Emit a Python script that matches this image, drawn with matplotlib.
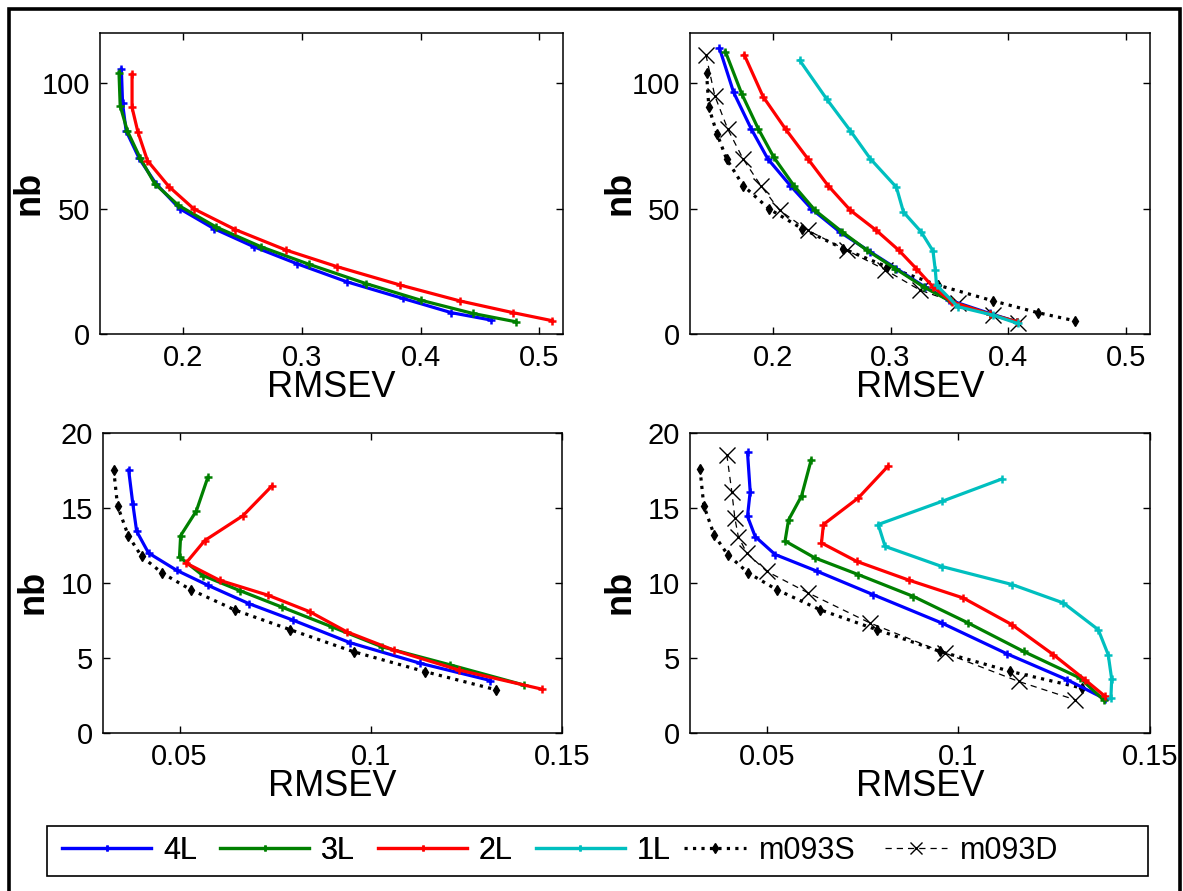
import matplotlib
matplotlib.use("Agg")
import matplotlib.pyplot as plt
from matplotlib.lines import Line2D
from matplotlib.patches import Rectangle
from matplotlib.ticker import FixedLocator, FuncFormatter

plt.rcParams['font.family'] = ['Liberation Sans', 'DejaVu Sans']

# ---------------- data ----------------
series_names = ['4L', '3L', '2L', '1L', 'm093S', 'm093D']

# top-left
tl_4L_x = [0.148, 0.149, 0.152, 0.163, 0.177, 0.197, 0.226, 0.260, 0.296, 0.338, 0.385, 0.426, 0.459]
tl_4L_y = [105.6, 92, 81, 70, 60, 50, 42, 34.7, 28, 20.8, 14.2, 8.5, 5.6]
tl_3L_x = [0.146, 0.147, 0.153, 0.164, 0.176, 0.196, 0.228, 0.266, 0.306, 0.354, 0.400, 0.444, 0.480]
tl_3L_y = [104.2, 91, 81, 70, 60, 51.3, 42.6, 34.7, 27.8, 20.1, 13.5, 8.2, 4.9]
tl_2L_x = [0.157, 0.157, 0.162, 0.170, 0.188, 0.209, 0.244, 0.287, 0.330, 0.383, 0.433, 0.478, 0.511]
tl_2L_y = [103.6, 90.3, 80.4, 69.1, 58.8, 49.9, 41.6, 33.4, 26.8, 19.5, 13.2, 8.5, 5.3]

# top-right
tr_4L_x = [0.155, 0.167, 0.182, 0.196, 0.215, 0.233, 0.257, 0.283, 0.305, 0.329, 0.350, 0.384, 0.407]
tr_4L_y = [113.9, 96.3, 81.7, 69.8, 59.2, 49.9, 40.7, 32.7, 26.1, 18.8, 13.5, 8.2, 4.9]
tr_3L_x = [0.160, 0.174, 0.188, 0.201, 0.218, 0.236, 0.259, 0.280, 0.304, 0.328, 0.351, 0.384, 0.407]
tr_3L_y = [112.6, 95.6, 81.7, 70.5, 59.2, 49.3, 40.7, 33.4, 26.1, 18.8, 13.0, 7.9, 4.9]
tr_2L_x = [0.176, 0.192, 0.211, 0.230, 0.247, 0.266, 0.288, 0.307, 0.322, 0.336, 0.352, 0.384, 0.407]
tr_2L_y = [111.3, 94.6, 81.7, 69.8, 59.2, 49.3, 41.3, 33.4, 26.0, 18.8, 12.8, 7.9, 4.9]
tr_1L_x = [0.223, 0.246, 0.266, 0.283, 0.305, 0.311, 0.326, 0.336, 0.338, 0.339, 0.357, 0.387, 0.408]
tr_1L_y = [109.1, 93.6, 81, 69.8, 58.5, 48.6, 40.7, 33.1, 25.4, 19.5, 10.9, 7.5, 4.2]
tr_S_x = [0.144, 0.146, 0.153, 0.161, 0.175, 0.197, 0.225, 0.260, 0.297, 0.340, 0.387, 0.425, 0.456]
tr_S_y = [104.2, 90.3, 79.7, 69.8, 59.2, 49.9, 42, 34, 26.8, 19.5, 13.2, 8.5, 5.3]
tr_D_x = [0.1435, 0.151, 0.162, 0.175, 0.190, 0.206, 0.230, 0.263, 0.295, 0.325, 0.357, 0.387, 0.408]
tr_D_y = [111.3, 95, 81.7, 69.8, 59.2, 49.3, 41.3, 33.4, 25.7, 17.5, 12.2, 7.5, 4.2]

# bottom-left
bl_4L_x = [0.0367, 0.0378, 0.0388, 0.0419, 0.0493, 0.0574, 0.0681, 0.0797, 0.0946, 0.1129, 0.1313]
bl_4L_y = [17.54, 15.27, 13.45, 12.0, 10.84, 9.85, 8.63, 7.52, 6.02, 4.65, 3.5]
bl_3L_x = [0.0574, 0.0544, 0.0503, 0.0500, 0.0561, 0.0657, 0.0767, 0.0898, 0.1029, 0.1208, 0.1400]
bl_3L_y = [17.04, 14.8, 13.16, 11.73, 10.5, 9.5, 8.4, 7.08, 5.75, 4.54, 3.2]
bl_2L_x = [0.0742, 0.0666, 0.0566, 0.0517, 0.0605, 0.0732, 0.0841, 0.0937, 0.1060, 0.1230, 0.1448]
bl_2L_y = [16.48, 14.49, 12.83, 11.33, 10.18, 9.18, 8.08, 6.75, 5.53, 4.2, 2.92]
bl_S_x = [0.0328, 0.0338, 0.0366, 0.0401, 0.0455, 0.0529, 0.0646, 0.0788, 0.0955, 0.1142, 0.1328]
bl_S_y = [17.54, 15.15, 13.16, 11.77, 10.66, 9.56, 8.19, 6.9, 5.42, 4.09, 2.88]

# bottom-right
br_4L_x = [0.0450, 0.0457, 0.0450, 0.0470, 0.0522, 0.0630, 0.0778, 0.0957, 0.1126, 0.1283, 0.1383]
br_4L_y = [18.71, 16.1, 14.44, 13.1, 11.9, 10.8, 9.22, 7.33, 5.29, 3.56, 2.27]
br_3L_x = [0.0616, 0.0591, 0.0557, 0.0548, 0.0626, 0.0739, 0.0883, 0.1026, 0.1170, 0.1317, 0.1380]
br_3L_y = [18.2, 15.8, 14.2, 12.8, 11.67, 10.56, 9.1, 7.33, 5.44, 3.67, 2.18]
br_2L_x = [0.0817, 0.0739, 0.0648, 0.0643, 0.0735, 0.0870, 0.1013, 0.1140, 0.1248, 0.1330, 0.1383]
br_2L_y = [17.8, 15.67, 13.9, 12.67, 11.44, 10.2, 9.0, 7.22, 5.22, 3.56, 2.44]
br_1L_x = [0.1113, 0.0957, 0.0791, 0.0809, 0.0957, 0.1140, 0.1274, 0.1365, 0.1391, 0.1400, 0.1398]
br_1L_y = [16.93, 15.44, 13.9, 12.44, 11.1, 9.9, 8.67, 6.89, 5.22, 3.6, 2.33]
br_S_x = [0.0326, 0.0336, 0.0363, 0.0398, 0.0452, 0.0526, 0.0639, 0.0787, 0.0952, 0.1135, 0.1322]
br_S_y = [17.6, 15.16, 13.2, 11.9, 10.67, 9.56, 8.22, 6.89, 5.44, 4.11, 3.0]
br_D_x = [0.0396, 0.0409, 0.0417, 0.0426, 0.0448, 0.0500, 0.0609, 0.0770, 0.0965, 0.1157, 0.1304]
br_D_y = [18.56, 16.1, 14.33, 13.1, 12.0, 10.78, 9.33, 7.33, 5.33, 3.44, 2.22]

top_xticks = [0.2, 0.3, 0.4, 0.5]
top_yticks = [0, 50, 100]
bot_xticks = [0.05, 0.1, 0.15]
bot_yticks = [0, 5, 10, 15, 20]

# ---------------- styles ----------------
W, H = 1183, 891
DPI = 100
colors = {'4L': '#0000FF', '3L': '#008000', '2L': '#FF0000', '1L': '#00BFBF'}
styles = {
    '4L': dict(color=colors['4L'], lw=2.3, marker='+', ms=6, mew=1.8),
    '3L': dict(color=colors['3L'], lw=2.3, marker='+', ms=6, mew=1.8),
    '2L': dict(color=colors['2L'], lw=2.3, marker='+', ms=6, mew=1.8),
    '1L': dict(color=colors['1L'], lw=2.3, marker='+', ms=6, mew=1.8),
    'm093S': dict(color='black', lw=2.3, ls=':', marker='d', ms=5),
    'm093D': dict(color='black', lw=0.9, ls=(0, (5, 4)), marker='x', ms=12, mew=1.0),
}

fig = plt.figure(figsize=(W / DPI, H / DPI), dpi=DPI)


def px_axes(l, r, t, b):
    return fig.add_axes([l / W, 1 - b / H, (r - l) / W, (b - t) / H])


def style_axes(ax, xlim, ylim, xt, yt):
    ax.set_xlim(*xlim)
    ax.set_ylim(*ylim)
    ax.xaxis.set_major_locator(FixedLocator(xt))
    ax.yaxis.set_major_locator(FixedLocator(yt))
    ax.xaxis.set_major_formatter(FuncFormatter(lambda v, p: '%g' % v))
    ax.yaxis.set_major_formatter(FuncFormatter(lambda v, p: '%g' % v))
    ax.tick_params(direction='in', length=5, width=1, labelsize=21, pad=7,
                   top=True, right=True, colors='black')
    for s in ax.spines.values():
        s.set_linewidth(1.1)
    ax.set_xlabel('RMSEV', fontsize=26, labelpad=-1)
    ax.set_ylabel('nb', fontsize=26, fontweight='bold')
    ax.yaxis.set_label_coords(-0.115, 0.47)


ax_tl = px_axes(100, 563, 33, 334)
ax_tr = px_axes(690, 1150, 33, 334)
ax_bl = px_axes(103, 562, 433, 733)
ax_br = px_axes(690, 1150, 433, 733)

ax_tl.plot(tl_4L_x, tl_4L_y, **styles['4L'])
ax_tl.plot(tl_3L_x, tl_3L_y, **styles['3L'])
ax_tl.plot(tl_2L_x, tl_2L_y, **styles['2L'])

ax_tr.plot(tr_S_x, tr_S_y, **styles['m093S'])
ax_tr.plot(tr_D_x, tr_D_y, **styles['m093D'])
ax_tr.plot(tr_4L_x, tr_4L_y, **styles['4L'])
ax_tr.plot(tr_3L_x, tr_3L_y, **styles['3L'])
ax_tr.plot(tr_2L_x, tr_2L_y, **styles['2L'])
ax_tr.plot(tr_1L_x, tr_1L_y, **styles['1L'])

ax_bl.plot(bl_S_x, bl_S_y, **styles['m093S'])
ax_bl.plot(bl_4L_x, bl_4L_y, **styles['4L'])
ax_bl.plot(bl_3L_x, bl_3L_y, **styles['3L'])
ax_bl.plot(bl_2L_x, bl_2L_y, **styles['2L'])

ax_br.plot(br_S_x, br_S_y, **styles['m093S'])
ax_br.plot(br_D_x, br_D_y, **styles['m093D'])
ax_br.plot(br_4L_x, br_4L_y, **styles['4L'])
ax_br.plot(br_3L_x, br_3L_y, **styles['3L'])
ax_br.plot(br_2L_x, br_2L_y, **styles['2L'])
ax_br.plot(br_1L_x, br_1L_y, **styles['1L'])

style_axes(ax_tl, (0.13, 0.52), (0, 120), top_xticks, top_yticks)
style_axes(ax_tr, (0.13, 0.52), (0, 120), top_xticks, top_yticks)
style_axes(ax_bl, (0.03, 0.15), (0, 20), bot_xticks, bot_yticks)
style_axes(ax_br, (0.03, 0.15), (0, 20), bot_xticks, bot_yticks)

# ---------------- legend ----------------
LFS = 22
lfs_px = LFS * DPI / 72.0
handles_a = [Line2D([], [], **dict(styles[n], ms=4)) for n in series_names[:4]]
handles_b = [Line2D([], [], **dict(styles[n], ms=(5 if n == 'm093S' else 9)))
             for n in series_names[4:]]
leg_y = 1 - 851 / H
leg_a = fig.legend(handles_a, series_names[:4], loc='center left',
                   bbox_to_anchor=(62 / W, leg_y), ncol=4, frameon=False,
                   fontsize=LFS, handlelength=89 / lfs_px, handletextpad=12 / lfs_px,
                   columnspacing=23 / lfs_px, borderpad=0, borderaxespad=0)
leg_b = fig.legend(handles_b, series_names[4:], loc='center left',
                   bbox_to_anchor=(684 / W, leg_y), ncol=2, frameon=False,
                   fontsize=LFS, handlelength=62 / lfs_px, handletextpad=13 / lfs_px,
                   columnspacing=29 / lfs_px, borderpad=0, borderaxespad=0)
fig.add_artist(leg_a)
fig.patches.append(Rectangle((47 / W, 1 - 876 / H), (1148 - 47) / W, 50 / H,
                             transform=fig.transFigure, fill=False,
                             edgecolor='black', lw=1.2))

# outer frame
fig.patches.append(Rectangle((8.5 / W, -0.02), (1180 - 8.5) / W, 1.02 - 8.5 / H,
                             transform=fig.transFigure, fill=False,
                             edgecolor='black', lw=2.6))

fig.savefig('out.png', dpi=DPI)
